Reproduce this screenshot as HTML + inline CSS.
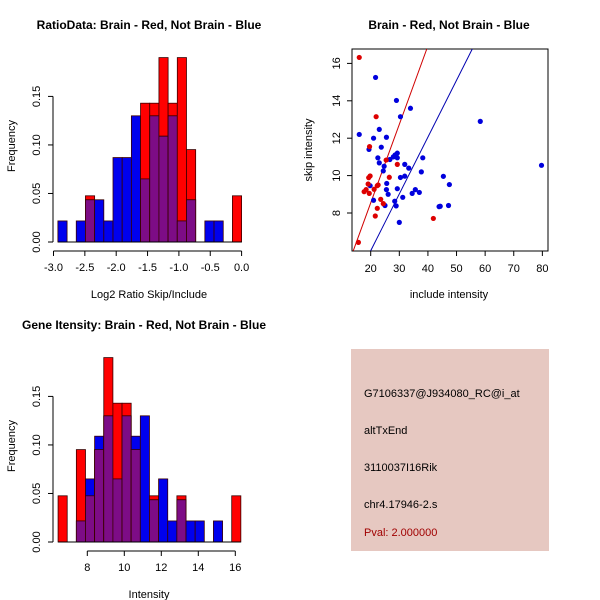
<!DOCTYPE html>
<html><head><meta charset="utf-8"><style>
body{margin:0;background:#fff;}
svg{display:block;font-family:"Liberation Sans",Arial,sans-serif;}
</style></head><body>
<svg id="s" width="600" height="600" viewBox="0 0 600 600">
<rect width="600" height="600" fill="#fff"/>
<text x="149" y="29" text-anchor="middle" font-size="12" font-weight="bold">RatioData: Brain - Red, Not Brain - Blue</text>
<text x="449" y="29" text-anchor="middle" font-size="12" font-weight="bold">Brain - Red, Not Brain - Blue</text>
<text x="144" y="329" text-anchor="middle" font-size="12" font-weight="bold">Gene Itensity: Brain - Red, Not Brain - Blue</text>
<text x="149" y="298" text-anchor="middle" font-size="11">Log2 Ratio Skip/Include</text>
<text x="149" y="598" text-anchor="middle" font-size="11">Intensity</text>
<text transform="translate(15,146) rotate(-90)" text-anchor="middle" font-size="11">Frequency</text>
<text transform="translate(15,446) rotate(-90)" text-anchor="middle" font-size="11">Frequency</text>
<text x="449" y="298" text-anchor="middle" font-size="11">include intensity</text>
<text transform="translate(312,150) rotate(-90)" text-anchor="middle" font-size="11">skip intensity</text>
<g>
<rect x="351" y="349" width="198" height="202" fill="#e6c8c1"/>
<text x="364" y="397" font-size="11">G7106337@J934080_RC@i_at</text>
<text x="364" y="434" font-size="11">altTxEnd</text>
<text x="364" y="471" font-size="11">3110037I16Rik</text>
<text x="364" y="508" font-size="11">chr4.17946-2.s</text>
<text x="364" y="536" font-size="11" fill="#a00000">Pval: 2.000000</text>
</g>
</svg>
<script>
// Ratio histogram data
const ratioStart = -2.93;
const ratioBinW = 0.1465;
const ratioRed  = [0,0,0,0.0476,0,0,0,0,0,0.143,0.143,0.190,0.143,0.190,0.0952,0,0,0,0,0.0476];
const ratioBlue = [0.0217,0,0.0217,0.0435,0.0435,0.0217,0.087,0.087,0.130,0.065,0.130,0.109,0.130,0.0217,0.0435,0,0.0217,0.0217,0,0];
const ratioXTicks = [-3.0,-2.5,-2.0,-1.5,-1.0,-0.5,0.0];
const freqTicks = [0,0.05,0.10,0.15];
// Intensity histogram data
const intStart = 6.42;
const intBinW = 0.494;
const intRed  = [0.0476,0,0.0952,0.0476,0.0952,0.190,0.143,0.143,0.0952,0,0.0476,0,0,0.0476,0,0,0,0,0,0.0476];
const intBlue = [0,0,0.0217,0.065,0.109,0.130,0.065,0.130,0.109,0.130,0.0435,0.065,0.0217,0.0435,0.0217,0.0217,0,0.0217,0,0];
const intXTicks = [8,10,12,14,16];
// Scatter data
const redX = [16.0,21.9,19.6,25.4,29.3,19.8,19.3,19.1,22.3,17.7,18.4,19.5,21.2,26.5,23.5,24.4,22.3,21.6,41.9,15.7,22.6];
const redY = [16.32,13.15,11.55,10.83,10.6,9.98,9.89,9.55,9.46,9.14,9.25,9.05,9.27,9.91,8.73,8.5,8.25,7.84,7.71,6.43,9.5];
const blueX = [21.7,29.0,33.9,30.4,58.3,16.0,23.0,21.0,25.5,23.7,19.4,29.3,28.5,27.9,29.3,22.5,38.2,26.7,23.0,31.9,33.3,79.7,24.7,24.4,37.7,45.4,31.9,30.4,19.8,25.6,47.5,29.3,25.5,35.6,37.0,34.5,26.1,31.2,21.0,28.4,25.0,28.9,44.3,43.9,47.2,30.0];
const blueY = [15.25,14.02,13.6,13.15,12.9,12.2,12.47,12.0,12.05,11.52,11.4,11.2,11.1,11.0,10.95,10.95,10.95,10.86,10.68,10.6,10.4,10.55,10.5,10.25,10.2,9.96,9.97,9.9,9.46,9.58,9.52,9.3,9.25,9.25,9.1,9.05,9.0,8.84,8.68,8.63,8.4,8.38,8.36,8.34,8.4,7.5];
const redLine = [[13.9,5.98],[39.6,16.77]];
const blueLine = [[20,5.98],[55.5,16.77]];
const scXTicks = [20,30,40,50,60,70,80];
const scYTicks = [8,10,12,14,16];

const NS="http://www.w3.org/2000/svg";
const svg=document.getElementById('s');
function mk(tag,attrs,parent){const e=document.createElementNS(NS,tag);for(const k in attrs)e.setAttribute(k,attrs[k]);(parent||svg).appendChild(e);return e;}

function hist(name,start,bw,red,blue,xTicks,x0v,x0p,xs,base,axisY){
  const sx=v=>x0p+(v-x0v)*xs;
  const sy=v=>base-v*970.6;
  const g=mk('g',{});
  
  
  for(let i=0;i<red.length;i++){
    const xa=sx(start+i*bw), xb=sx(start+(i+1)*bw);
    const r=red[i], b=blue[i], m=Math.min(r,b);
    const layers=[[r,'#ff0000','red'],[b,'#0000ee','blue'],[m,'#7d0c86','overlap']];
    for(const [v,c,n] of layers){
      if(v<=0)continue;
      const rc=mk('rect',{x:xa,y:sy(v),width:xb-xa,height:sy(0)-sy(v),fill:c,stroke:'#3a0000','stroke-width':0.8},g);
      
      
    }
  }
  mk('line',{x1:sx(start),x2:sx(start+red.length*bw),y1:base,y2:base,stroke:'#000'},g);
  const ya=mk('g',{},g);
  
  
  mk('line',{x1:53,x2:53,y1:sy(0),y2:sy(0.15),stroke:'#000'},ya);
  for(const t of freqTicks){
    mk('line',{x1:48,x2:53,y1:sy(t),y2:sy(t),stroke:'#000'},ya);
    const tx=mk('text',{transform:`translate(40,${sy(t)}) rotate(-90)`,'text-anchor':'middle','font-size':11},ya);
    tx.textContent=t.toFixed(2);
  }
  const xa=mk('g',{},g);
  
  
  mk('line',{x1:sx(xTicks[0]),x2:sx(xTicks[xTicks.length-1]),y1:axisY,y2:axisY,stroke:'#000'},xa);
  for(const t of xTicks){
    mk('line',{x1:sx(t),x2:sx(t),y1:axisY,y2:axisY+5,stroke:'#000'},xa);
    const tx=mk('text',{x:sx(t),y:axisY+20,'text-anchor':'middle','font-size':11},xa);
    tx.textContent=xTicks.every(Number.isInteger)?String(t):t.toFixed(1);
  }
}
hist('ratio-histogram',ratioStart,ratioBinW,ratioRed,ratioBlue,ratioXTicks,-3,53.5,62.7,242,251);
hist('intensity-histogram',intStart,intBinW,intRed,intBlue,intXTicks,8,87.3,18.5,542,551);

const px=v=>370.7+(v-20)*2.861;
const py=v=>213-(v-8)*18.7;
const sg=mk('g',{});


const clip=mk('clipPath',{id:'cp'},sg);
mk('rect',{x:352,y:49,width:196,height:202},clip);
mk('rect',{x:352,y:49,width:196,height:202,fill:'none',stroke:'#000'},sg);
const lr=mk('line',{x1:px(redLine[0][0]),y1:py(redLine[0][1]),x2:px(redLine[1][0]),y2:py(redLine[1][1]),stroke:'#d00000','clip-path':'url(#cp)'},sg);


const lb=mk('line',{x1:px(blueLine[0][0]),y1:py(blueLine[0][1]),x2:px(blueLine[1][0]),y2:py(blueLine[1][1]),stroke:'#0000b0','clip-path':'url(#cp)'},sg);


for(let i=0;i<blueX.length;i++){
  const c=mk('circle',{cx:px(blueX[i]),cy:py(blueY[i]),r:2.6,fill:'#0000dd'},sg);
  
  
}
for(let i=0;i<redX.length;i++){
  const c=mk('circle',{cx:px(redX[i]),cy:py(redY[i]),r:2.6,fill:'#dd0000'},sg);
  
  
}
for(const t of scXTicks){
  mk('line',{x1:px(t),x2:px(t),y1:251,y2:256,stroke:'#000'},sg);
  const tx=mk('text',{x:px(t),y:272,'text-anchor':'middle','font-size':11},sg);
  tx.textContent=t;
}
for(const t of scYTicks){
  mk('line',{x1:347,x2:352,y1:py(t),y2:py(t),stroke:'#000'},sg);
  const tx=mk('text',{transform:`translate(340,${py(t)}) rotate(-90)`,'text-anchor':'middle','font-size':11},sg);
  tx.textContent=t;
}
</script>
</body></html>
